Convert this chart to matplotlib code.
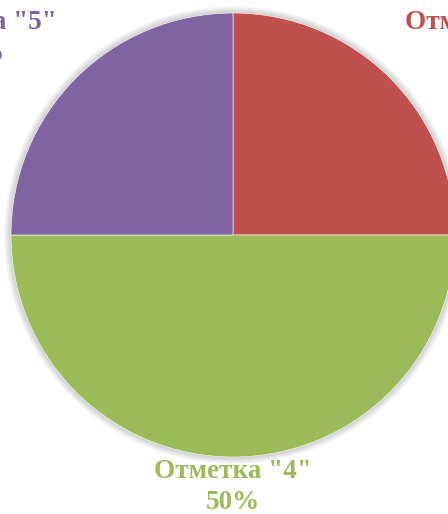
import matplotlib
matplotlib.use("Agg")
import matplotlib.pyplot as plt
from matplotlib.patches import Circle

categories = ['Отметка "3"', 'Отметка "4"', 'Отметка "5"']
values = [25, 50, 25]
pct_labels = ['25%', '50%', '25%']
colors = ['#C0504D', '#9BBB59', '#8064A2']

W, H = 448, 514
cx, cy, R = 233, 235, 222
fig = plt.figure(figsize=(W / 100, H / 100), dpi=100)
ax = fig.add_axes([0, 0, 1, 1])

# soft shadow
for i in range(8):
    ax.add_patch(Circle((0, 0), 1 + 0.004 * (i + 1), color='black',
                        alpha=0.025, lw=0, zorder=0))

wedges, _ = ax.pie(values, colors=colors, startangle=90, counterclock=False,
                   radius=1, center=(0, 0), frame=True,
                   wedgeprops=dict(edgecolor='white', linewidth=0.4))
ax.set_xlim(-cx / R, (W - cx) / R)
ax.set_ylim((cy - H) / R, cy / R)
ax.set_aspect('auto')
ax.axis('off')

font = dict(family=['Liberation Serif', 'DejaVu Serif'], fontweight='bold',
            fontsize=19.5, ha='center', va='center', linespacing=1.32)

def px(x, y):
    return ((x - cx) / R, (cy - y) / R)

positions = [px(484, 38), px(233, 487), px(-22, 38)]
for (x, y), cat, p, c in zip(positions, categories, pct_labels, colors):
    ax.text(x, y, cat + '\n' + p, color=c, **font)

fig.savefig('out.png', dpi=100)
